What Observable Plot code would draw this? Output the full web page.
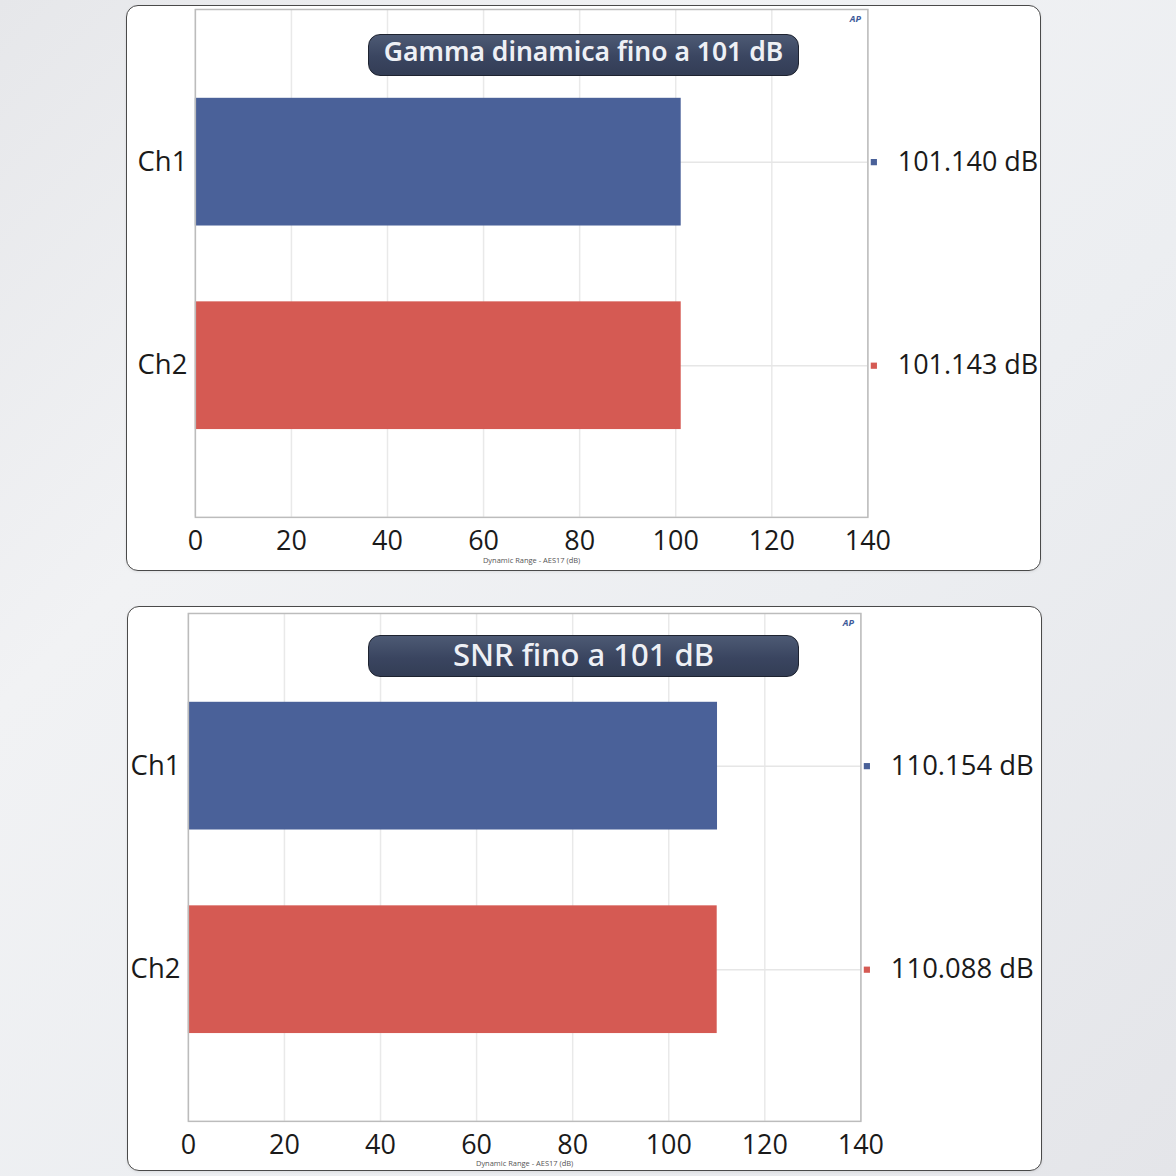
<!DOCTYPE html>
<html>
<head>
<meta charset="utf-8">
<script src="https://cdn.jsdelivr.net/npm/d3@7"></script>
<script src="https://cdn.jsdelivr.net/npm/@observablehq/plot@0.6"></script>
<style>
  html, body { margin: 0; padding: 0; }
  body {
    width: 1176px; height: 1176px; position: relative; overflow: hidden;
    background: linear-gradient(135deg, #e6e7ea 0%, #f1f2f4 30%, #eceef1 60%, #e4e5e9 100%);
    font-family: "Open Sans", "Noto Sans", sans-serif;
  }
  .card {
    position: absolute; background: #ffffff; border: 1.5px solid #4a4a4a;
    border-radius: 12px; box-sizing: border-box; overflow: hidden;
    box-shadow: 0 1px 3px rgba(0,0,0,0.08);
  }
  .card svg { position: absolute; left: 0; top: 0; }
  .title {
    position: absolute; box-sizing: border-box;
    background: linear-gradient(180deg, #4d5a74 0%, #3a4560 55%, #333d55 100%);
    border: 1.5px solid #1e2330; border-radius: 12px;
    color: #eef0f5; text-align: center;
    font-family: "Noto Sans", "Open Sans", sans-serif;
    white-space: nowrap;
  }
</style>
</head>
<body>
<div id="card1" class="card" style="left:126px; top:5px; width:915px; height:566px;"></div>
<div id="card2" class="card" style="left:127px; top:606px; width:915px; height:565px;"></div>
<div class="title" style="left:368px; top:34px; width:431px; height:42px; line-height:33px; font-size:26.5px; font-weight:600;">Gamma dinamica fino a 101 dB</div>
<div class="title" style="left:368px; top:635px; width:431px; height:42px; line-height:37px; font-size:31px; font-weight:500;">SNR fino a 101 dB</div>
<script>
const categories = ["Ch1", "Ch2"];
const dynamicRange = [101.140, 101.143];
const snrValues = [110.154, 110.088];
const xTicks = [0, 20, 40, 60, 80, 100, 120, 140];
const barColors = ["#4a6199", "#d55a53"];
const axisCaption = "Dynamic Range - AES17 (dB)";
const logoText = "AP";

function makeChart(values, m) {
  const data = categories.map((c, i) => ({ch: c, v: values[i]}));
  return Plot.plot({
    width: 915, height: m.height,
    marginLeft: m.left, marginRight: m.right, marginTop: m.top, marginBottom: m.bottom,
    style: {fontFamily: "'Open Sans', 'Noto Sans', sans-serif", background: "transparent", overflow: "hidden"},
    x: {domain: [0, 140], ticks: xTicks},
    y: {domain: categories, paddingInner: 0.373, paddingOuter: 0.434},
    color: {domain: categories, range: barColors},
    marks: [
      Plot.gridX(xTicks, {stroke: "#e9e9e9", strokeOpacity: 1, strokeWidth: 1.5}),
      Plot.ruleY(data, {y: "ch", stroke: "#e6e6e6", strokeWidth: 1.5}),
      Plot.barX(data, {y: "ch", x: "v", fill: "ch"}),
      Plot.frame({stroke: "#bcbcbc", strokeWidth: 1.5}),
      Plot.dot(data, {y: "ch", frameAnchor: "right", dx: 6, symbol: "square", r: 3.5, fill: "ch"}),
      Plot.text(data, {y: "ch", frameAnchor: "right", dx: 30, textAnchor: "start",
        text: d => d.v.toFixed(3) + " dB", fontSize: m.valSize, fill: "#1a1a1a"}),
      Plot.axisX({ticks: xTicks, tickSize: 0, tickPadding: 14, fontSize: 27, fill: "#1a1a1a", label: null}),
      Plot.axisY({tickSize: 0, tickPadding: 8, fontSize: 27.5, fill: "#1a1a1a", label: null}),
      Plot.text([axisCaption], {frameAnchor: "bottom", dy: m.cap, fontSize: 7.5, fill: "#555", text: d => d}),
      Plot.text([logoText], {frameAnchor: "top-right", dx: -7, dy: 6, fontSize: 9, fontWeight: "bold",
        fontStyle: "italic", fill: "#3d5a99", text: d => d})
    ]
  });
}

document.getElementById("card1").appendChild(
  makeChart(dynamicRange, {height: 566, left: 68, right: 173, top: 3, bottom: 54, cap: 46, valSize: 27}));
document.getElementById("card2").appendChild(
  makeChart(snrValues, {height: 565, left: 60, right: 181, top: 6, bottom: 50, cap: 45, valSize: 27.5}));
</script>
</body>
</html>
